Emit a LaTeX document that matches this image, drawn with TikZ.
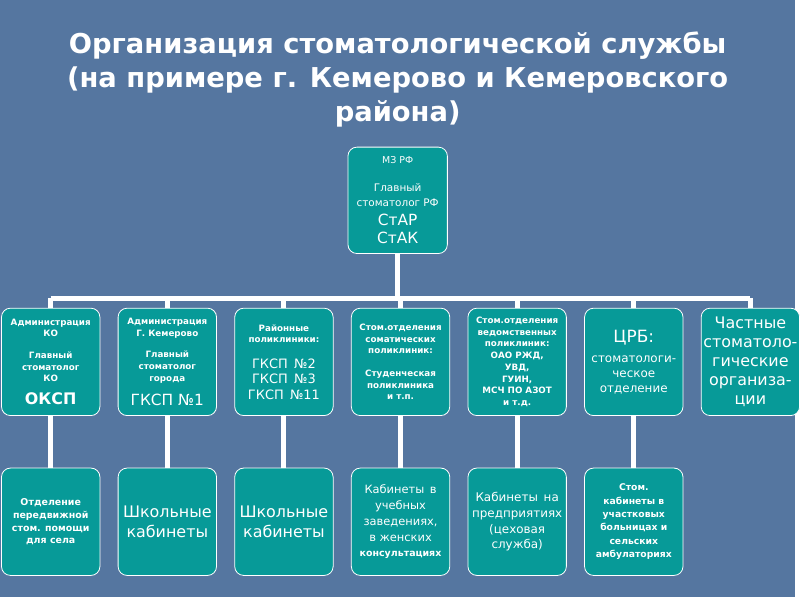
\documentclass[tikz,border=0pt]{standalone}
\usepackage{fontspec}
\setmainfont{DejaVu Sans}
\usepackage{xcolor}
\usetikzlibrary{positioning,backgrounds}
\definecolor{slidebg}{HTML}{5576A0}
\definecolor{boxteal}{HTML}{079A98}
\newcommand{\fs}[2]{\fontsize{#1}{#2}\selectfont}
\tikzset{
  box/.style   = {rounded corners=9pt, draw=white, line width=0.8pt, fill=boxteal,
                  text=white, align=center, inner sep=2pt,
                  minimum width=99pt, minimum height=108pt},
  tiny/.style  = {font=\bfseries\fs{8.8}{11.8}},
  link/.style  = {draw=white, line width=5pt},
  ttl/.style   = {align=center, text=white, font=\bfseries\fs{27.5}{34}},
}

\begin{document}
\begin{tikzpicture}[x=1pt, y=-1pt, node distance=52pt and 17.5pt]
  % ---------------- Title ----------------
  \node[ttl] (title) at (400,80)
    {Организация стоматологической службы\\(на примере г. Кемерово и Кемеровского\\района)};

  % ---------------- Head ----------------
  \node[box, font=\fs{10.5}{15}, minimum width=100pt, minimum height=107pt] (mz) at (400,201.5)
    {\fs{9.5}{12}МЗ РФ\\[13pt]Главный\\стоматолог РФ\\[4pt]\fs{15.5}{19}СтАР\\[4pt]\fs{15.5}{19}СтАК};

  % ---------------- First row ----------------
  \node[box, tiny] (ko) at (51,364)
    {Администрация\\КО\\[10pt]Главный\\стоматолог\\КО\\[10pt]\fs{16}{19}ОКСП};
  \node[box, tiny, right=of ko] (gor)
    {Администрация\\Г. Кемерово\\[10pt]Главный\\стоматолог\\города\\[10pt]\mdseries\fs{15.5}{19}ГКСП №1};
  \node[box, tiny, right=of gor] (rai)
    {Районные\\поликлиники:\\[14pt]\mdseries\fs{13}{16}ГКСП \,№2\\[3.5pt]\mdseries\fs{13}{16}ГКСП \,№3\\[3.5pt]\mdseries\fs{13}{16}ГКСП \,№11};
  \node[box, tiny, right=of rai] (som)
    {Стом.отделения\\соматических\\поликлиник:\\[11pt]Студенческая\\поликлиника\\и т.п.};
  \node[box, tiny, right=of som] (ved)
    {Стом.отделения\\ведомственных\\поликлиник:\\ОАО РЖД,\\УВД,\\ГУИН,\\МСЧ ПО АЗОТ\\и т.д.};
  \node[box, font=\fs{12}{15}, right=of ved] (crb)
    {\fs{17}{20}ЦРБ:\\[5pt]стоматологи-\\ческое\\отделение};
  \node[box, font=\fs{16}{19}, right=of crb] (pri)
    {Частные\\стоматоло-\\гические\\организа-\\ции};

  % ---------------- Second row ----------------
  \node[box, font=\bfseries\fs{9.5}{13}, below=of ko] (sel)
    {Отделение\\передвижной\\стом. помощи\\для села};
  \node[box, font=\fs{16}{20}, below=of gor] (shk1) {Школьные\\кабинеты};
  \node[box, font=\fs{16}{20}, below=of rai] (shk2) {Школьные\\кабинеты};
  \node[box, font=\fs{11.5}{16}, below=of som] (ucheb)
    {Кабинеты \,в\\учебных\\заведениях,\\в женских\\\bfseries\fs{9.5}{15}консультациях};
  \node[box, font=\fs{12}{16}, below=of ved] (pred)
    {Кабинеты \,на\\предприятиях\\(цеховая\\служба)};
  \node[box, font=\bfseries\fs{9.3}{13.5}, below=of crb] (amb)
    {Стом.\\кабинеты в\\участковых\\больницах и\\сельских\\амбулаториях};

  % ---------------- Links ----------------
  \begin{scope}[on background layer]
    \fill[slidebg] (0,0) rectangle (800,600);
    \coordinate (bar) at (400,300);
    \draw[link] (mz.south) -- (bar);
    \draw[link] (ko.north |- bar) -- (pri.north |- bar);
    \foreach \n in {ko,gor,rai,som,ved,crb,pri}
      \draw[link] (\n.north |- bar) -- (\n.north);
    \draw[link] (ko) -- (sel);
    \draw[link] (gor) -- (shk1);
    \draw[link] (rai) -- (shk2);
    \draw[link] (som) -- (ucheb);
    \draw[link] (ved) -- (pred);
    \draw[link] (crb) -- (amb);
  \end{scope}
\end{tikzpicture}
\end{document}
